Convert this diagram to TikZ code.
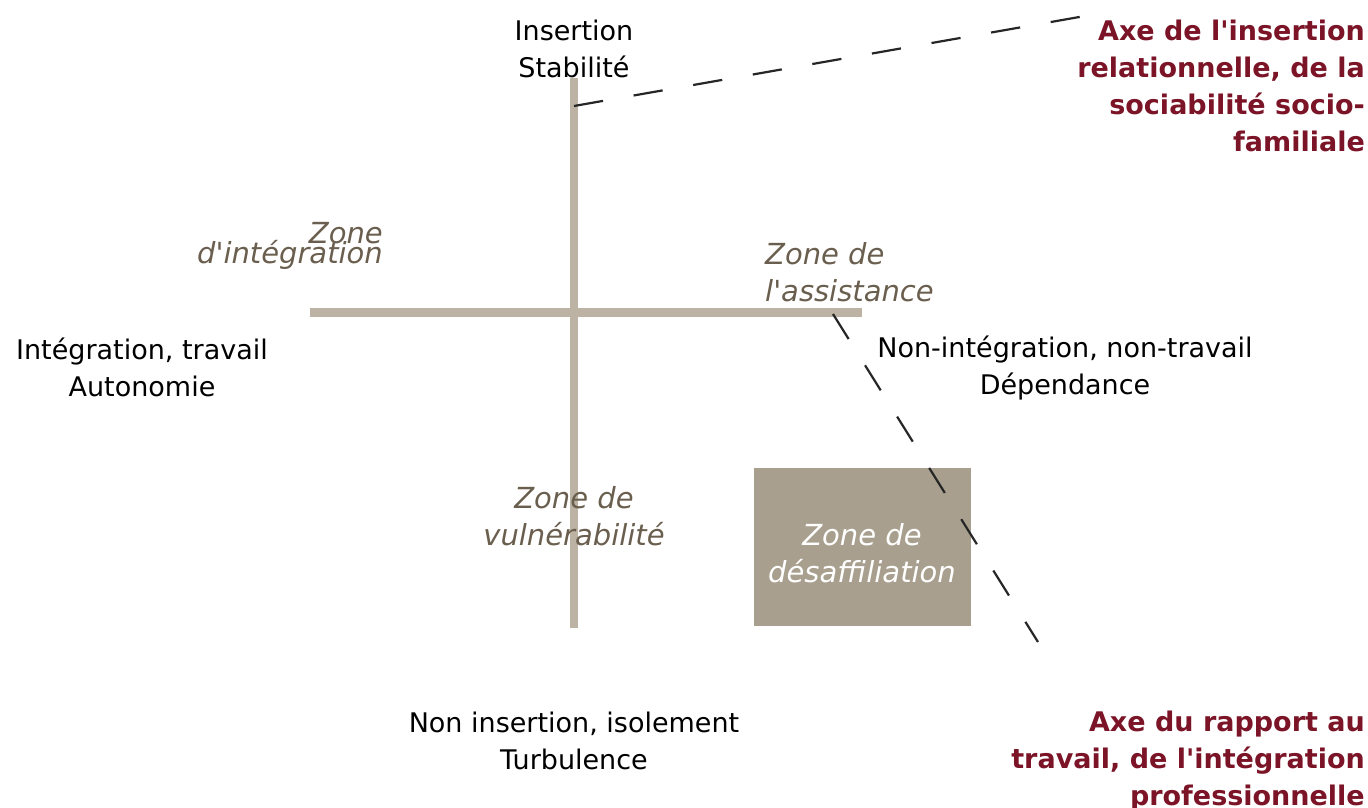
\documentclass[tikz,border=0pt]{standalone}
\usepackage{fontspec}
\setmainfont{DejaVu Sans}
\usetikzlibrary{positioning}
\definecolor{barre}{HTML}{BDB3A4}
\definecolor{boite}{HTML}{A89F8E}
\definecolor{zonetxt}{HTML}{6A5F4E}
\definecolor{axe}{HTML}{7B1426}
\newcommand{\apos}{\textquotesingle}
\newcommand{\serre}{\lineskiplimit=-100pt\relax}

\tikzset{
	pole/.style={inner sep=0pt, align=center, font=\fontsize{27}{37}\selectfont},
	zone/.style={inner sep=0pt, zonetxt, font=\itshape\fontsize{29}{37}\selectfont},
	axetitre/.style={inner sep=0pt, axe, align=right, anchor=east, font=\bfseries\fontsize{27}{37}\selectfont},
	barreaxe/.style={barre, line width=8.5pt},
	tirets/.style={black!85, line width=2.2pt, dash pattern=on 29.5pt off 31pt}
}

\begin{document}
\begin{tikzpicture}[x=1pt, y=-1pt]
	\useasboundingbox (0, 0) rectangle (1368, 808);

	% axes
	\coordinate (haut) at (574, 78);
	\coordinate (bas) at (574, 628);
	\coordinate (gauche) at (310, 312.5);
	\coordinate (droite) at (862, 312.5);
	\draw[barreaxe] (haut) -- (bas);
	\draw[barreaxe] (gauche) -- (droite);

	% zone de desaffiliation
	\node[fill=boite, minimum width=217pt, minimum height=158pt, inner sep=0pt] (desaff) at (862.5, 547) {};
	\node[zone, white, align=center] (desafftxt) at (862, 553) {Zone de\\désaffiliation};

	% poles
	\node[pole] (insertion) at (574, 49) {Insertion\\Stabilité};
	\node[pole] (integration) at (142, 367) {Intégration, travail\\Autonomie};
	\node[pole] (nonintegration) at (1065, 368) {Non-intégration, non-travail\\Dépendance};
	\node[pole] (isolement) at (574, 741) {Non insertion, isolement\\Turbulence};

	% zones
	\node[zone, align=right, anchor=east, font=\itshape\fontsize{29}{20}\selectfont\serre] (zinteg) at (383, 246) {Zone\\d\apos intégration};
	\node[zone, align=left, anchor=west] (zassist) at (765, 272) {Zone de\\l\apos assistance};
	\node[zone, align=center] (zvulne) at (574, 516) {Zone de\\vulnérabilité};

	% axes nommes
	\node[axetitre] (axerel) at (1365, 86) {Axe de l\apos insertion\\relationnelle, de la\\sociabilité socio-\\familiale};
	\node[axetitre] (axetrav) at (1365, 761) {Axe du rapport au\\travail, de l\apos intégration\\professionnelle};

	\coordinate (rel1) at (574, 106);
	\coordinate (rel2) at (1085, 16);
	\coordinate (trav1) at (833, 314);
	\coordinate (trav2) at (1038, 642);
	\draw[tirets] (rel1) -- (rel2);
	\draw[tirets] (trav1) -- (trav2);
\end{tikzpicture}
\end{document}
